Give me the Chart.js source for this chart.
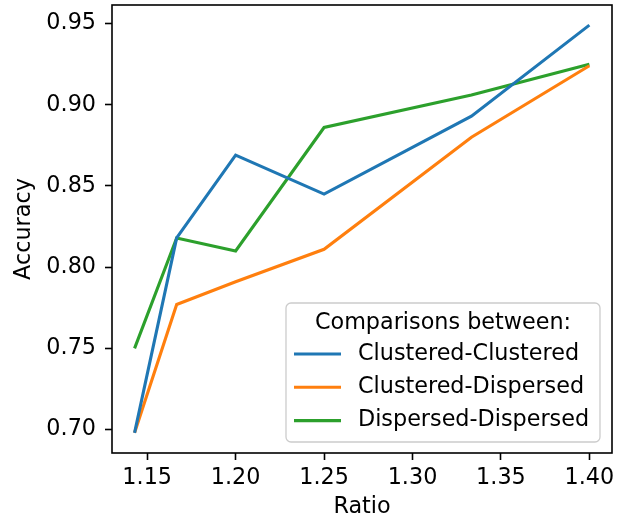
<!DOCTYPE html>
<html>
<head>
<meta charset="utf-8">
<script src="https://cdn.jsdelivr.net/npm/chart.js@4/dist/chart.umd.min.js"></script>
<style>
  html, body { margin: 0; padding: 0; background: #fff; }
  #wrap { width: 624px; height: 522px; }
</style>
</head>
<body>
<div id="wrap"><canvas id="chart"></canvas></div>
<script>
// values
const ratios = [8 / 7, 7 / 6, 1.2, 1.25, 4 / 3, 1.4];
const clusteredClustered = [0.698, 0.818, 0.869, 0.845, 0.893, 0.949];
const clusteredDispersed = [0.698, 0.777, 0.791, 0.811, 0.880, 0.924];
const dispersedDispersed = [0.750, 0.818, 0.810, 0.886, 0.906, 0.925];
const xTicks = [1.15, 1.20, 1.25, 1.30, 1.35, 1.40];
const yTicks = [0.70, 0.75, 0.80, 0.85, 0.90, 0.95];
const legendTitle = 'Comparisons between:';

const FONT = 'DejaVu Sans';
const FS = 22.3;

const toPoints = (vals) => vals.map((v, i) => ({ x: ratios[i], y: v }));

// frame round the plot area (matplotlib spines)
const framePlugin = {
  id: 'frame',
  afterDatasetsDraw(chart) {
    const { ctx, chartArea: a } = chart;
    ctx.save();
    ctx.strokeStyle = '#000';
    ctx.lineWidth = 1.6;
    ctx.strokeRect(a.left, a.top, a.right - a.left, a.bottom - a.top);
    ctx.restore();
  }
};

// legend box in the lower right corner of the plot area
const boxLegend = {
  id: 'boxLegend',
  afterDraw(chart) {
    const { ctx } = chart;
    const x = 286, y = 303, w = 314, h = 139, r = 5;
    ctx.save();
    ctx.beginPath();
    ctx.roundRect(x, y, w, h, r);
    ctx.fillStyle = 'rgba(255,255,255,0.8)';
    ctx.fill();
    ctx.strokeStyle = '#cccccc';
    ctx.lineWidth = 1.3;
    ctx.stroke();

    ctx.font = `${FS}px "${FONT}"`;
    ctx.fillStyle = '#000';
    ctx.textBaseline = 'middle';
    ctx.textAlign = 'center';
    ctx.fillText(legendTitle, x + w / 2, y + 20);

    ctx.textAlign = 'left';
    chart.data.datasets.forEach((ds, i) => {
      const ly = y + 51 + i * 33.3;
      ctx.beginPath();
      ctx.moveTo(x + 8, ly);
      ctx.lineTo(x + 55, ly);
      ctx.strokeStyle = ds.borderColor;
      ctx.lineWidth = 3.1;
      ctx.stroke();
      ctx.fillText(ds.label, x + 72, ly);
    });
    ctx.restore();
  }
};

const ctx = document.getElementById('chart').getContext('2d');
new Chart(ctx, {
  type: 'line',
  data: {
    datasets: [
      { label: 'Clustered-Clustered', data: toPoints(clusteredClustered), borderColor: '#1f77b4' },
      { label: 'Clustered-Dispersed', data: toPoints(clusteredDispersed), borderColor: '#ff7f0e' },
      { label: 'Dispersed-Dispersed', data: toPoints(dispersedDispersed), borderColor: '#2ca02c' }
    ]
  },
  options: {
    responsive: true,
    maintainAspectRatio: false,
    animation: false,
    devicePixelRatio: 1,
    layout: { padding: { top: 5, right: 12, left: 0, bottom: 0 } },
    elements: {
      line: { borderWidth: 3.1, tension: 0, fill: false },
      point: { radius: 0, hoverRadius: 0 }
    },
    plugins: {
      legend: { display: false },
      tooltip: { enabled: false }
    },
    scales: {
      x: {
        type: 'linear',
        min: 1.1301,
        max: 1.4128,
        afterBuildTicks: (s) => { s.ticks = xTicks.map((v) => ({ value: v })); },
        afterFit: (s) => { s.height = 69; s.paddingLeft = 0; s.paddingRight = 0; },
        border: { display: false },
        grid: { drawOnChartArea: false, drawTicks: true, tickLength: 7, tickColor: '#000', tickWidth: 1.6 },
        ticks: {
          color: '#000',
          font: { family: FONT, size: FS },
          padding: 5,
          maxRotation: 0,
          callback: (v) => v.toFixed(2)
        },
        title: {
          display: true,
          text: 'Ratio',
          color: '#000',
          font: { family: FONT, size: FS },
          padding: { top: 0, bottom: 1 }
        }
      },
      y: {
        type: 'linear',
        min: 0.6856,
        max: 0.9614,
        afterBuildTicks: (s) => { s.ticks = yTicks.map((v) => ({ value: v })); },
        afterFit: (s) => { s.width = 112; s.paddingTop = 0; s.paddingBottom = 0; },
        border: { display: false },
        grid: { drawOnChartArea: false, drawTicks: true, tickLength: 7, tickColor: '#000', tickWidth: 1.6 },
        ticks: {
          color: '#000',
          font: { family: FONT, size: FS },
          padding: 9,
          callback: (v) => v.toFixed(2)
        },
        title: {
          display: true,
          text: 'Accuracy',
          color: '#000',
          font: { family: FONT, size: FS },
          padding: { top: 11, bottom: 0 }
        }
      }
    }
  },
  plugins: [framePlugin, boxLegend]
});
</script>
</body>
</html>
